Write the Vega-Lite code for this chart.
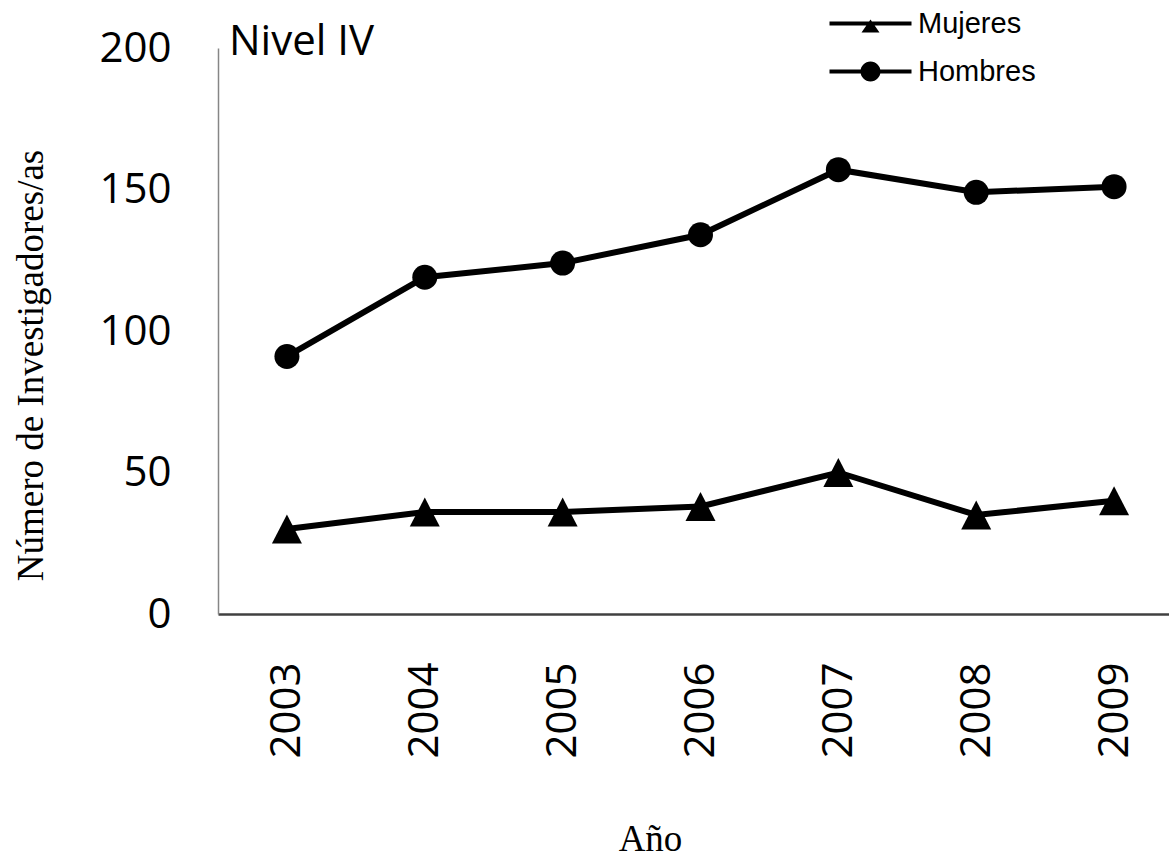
{
  "$schema": "https://vega.github.io/schema/vega-lite/v6.json",
  "width": 965,
  "height": 566,
  "autosize": "none",
  "padding": {"left": 218, "top": 48, "right": 0, "bottom": 246},
  "background": "white",
  "config": {"view": {"stroke": null}},
  "data": {
    "values": [
      {"anio": "2003", "serie": "Hombres", "valor": 91},
      {"anio": "2004", "serie": "Hombres", "valor": 119},
      {"anio": "2005", "serie": "Hombres", "valor": 124},
      {"anio": "2006", "serie": "Hombres", "valor": 134},
      {"anio": "2007", "serie": "Hombres", "valor": 157},
      {"anio": "2008", "serie": "Hombres", "valor": 149},
      {"anio": "2009", "serie": "Hombres", "valor": 151},
      {"anio": "2003", "serie": "Mujeres", "valor": 30},
      {"anio": "2004", "serie": "Mujeres", "valor": 36},
      {"anio": "2005", "serie": "Mujeres", "valor": 36},
      {"anio": "2006", "serie": "Mujeres", "valor": 38},
      {"anio": "2007", "serie": "Mujeres", "valor": 50},
      {"anio": "2008", "serie": "Mujeres", "valor": 35},
      {"anio": "2009", "serie": "Mujeres", "valor": 40}
    ]
  },
  "encoding": {
    "x": {
      "field": "anio",
      "type": "nominal",
      "sort": null,
      "scale": {"type": "point", "padding": 0.5},
      "axis": {
        "labelAngle": 270,
        "ticks": false,
        "domainColor": "#404040",
        "domainWidth": 2.5,
        "labelFont": "Open Sans",
        "labelFontSize": 42,
        "labelColor": "black",
        "labelPadding": 48,
        "labelOverlap": false,
        "title": "Año",
        "titleFont": "Liberation Serif",
        "titleFontSize": 37,
        "titleFontWeight": "normal",
        "titleColor": "black",
        "titleX": 432,
        "titleY": 236,
        "titleAlign": "center",
        "titleBaseline": "alphabetic"
      }
    },
    "y": {
      "field": "valor",
      "type": "quantitative",
      "scale": {"domain": [0, 200], "nice": false},
      "axis": {
        "values": [0, 50, 100, 150, 200],
        "grid": false,
        "ticks": false,
        "domainColor": "#868686",
        "domainWidth": 1.5,
        "labelFont": "Open Sans",
        "labelFontSize": 42,
        "labelColor": "black",
        "labelPadding": 47,
        "labelOverlap": false,
        "title": "Número de Investigadores/as",
        "titleFont": "Liberation Serif",
        "titleFontSize": 37,
        "titleFontWeight": "normal",
        "titleColor": "black",
        "titleX": -176,
        "titleY": 317,
        "titleAngle": 270,
        "titleAlign": "center",
        "titleBaseline": "alphabetic"
      }
    }
  },
  "layer": [
    {
      "mark": {"type": "line", "color": "black", "strokeWidth": 6},
      "encoding": {"detail": {"field": "serie"}}
    },
    {
      "transform": [{"filter": "datum.serie === 'Mujeres'"}],
      "mark": {"type": "point", "filled": true, "color": "black", "opacity": 1, "size": 625, "shape": "M0,-1.16L1.2,1.16L-1.2,1.16Z"}
    },
    {
      "transform": [{"filter": "datum.serie === 'Hombres'"}],
      "mark": {"type": "point", "filled": true, "color": "black", "opacity": 1, "size": 625, "shape": "circle"}
    },
    {
      "mark": {"type": "point", "filled": true, "color": "black", "opacity": 0},
      "encoding": {
        "shape": {
          "field": "serie",
          "type": "nominal",
          "scale": {
            "domain": ["Mujeres", "Hombres"],
            "range": [
              "M-4.1,-0.2L4.1,-0.2L4.1,0.2L-4.1,0.2Z M0,-0.4L0.9,0.9L-0.9,0.9Z",
              "M-4.1,-0.2L4.1,-0.2L4.1,0.2L-4.1,0.2Z M-1,0A1,1 0 1,1 1,0A1,1 0 1,1 -1,0Z"
            ]
          },
          "legend": {
            "orient": "none",
            "legendX": 638,
            "legendY": -39,
            "title": null,
            "padding": 0,
            "symbolSize": 400,
            "symbolOpacity": 1,
            "symbolFillColor": "black",
            "symbolStrokeWidth": 0,
            "labelFont": "Liberation Sans",
            "labelFontSize": 29,
            "labelColor": "black",
            "labelOffset": 33,
            "rowPadding": 18
          }
        }
      }
    },
    {
      "transform": [{"filter": "datum.anio === '2003' && datum.serie === 'Hombres'"}],
      "mark": {
        "type": "text",
        "align": "left",
        "baseline": "alphabetic",
        "dx": -58,
        "dy": 7,
        "font": "Open Sans",
        "fontSize": 42,
        "color": "black"
      },
      "encoding": {
        "y": {"datum": 200},
        "text": {"value": "Nivel IV"}
      }
    }
  ]
}
